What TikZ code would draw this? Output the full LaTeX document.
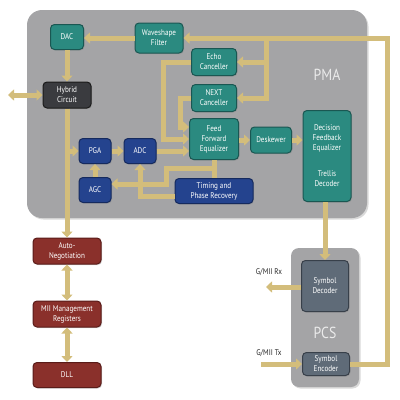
\documentclass[tikz,border=0pt]{standalone}
\usepackage{fontspec}
\setmainfont{PT Sans}[FakeStretch=0.86]
\usetikzlibrary{arrows.meta,shadows}
\definecolor{tanc}{HTML}{D3BD7B}
\definecolor{panelc}{HTML}{A4A4A6}
\definecolor{tealf}{HTML}{2B8A80}
\definecolor{tealb}{HTML}{1A5752}
\definecolor{bluef}{HTML}{24438E}
\definecolor{blueb}{HTML}{152A5E}
\definecolor{hybf}{HTML}{3A3B3F}
\definecolor{hybb}{HTML}{1A1A1A}
\definecolor{redf}{HTML}{8A302B}
\definecolor{redb}{HTML}{5A1C19}
\definecolor{slatef}{HTML}{5F6B78}
\definecolor{slateb}{HTML}{38404A}
\tikzset{
  box/.style={draw, rounded corners=4pt, line width=1pt, text=white, align=center,
    font=\fontsize{8.3}{10}\selectfont, inner sep=1pt,
    drop shadow={shadow xshift=1pt, shadow yshift=-1pt, opacity=0.35}},
  tealbox/.style={box, fill=tealf, draw=tealb},
  bluebox/.style={box, fill=bluef, draw=blueb},
  hybbox/.style={box, fill=hybf, draw=hybb},
  redbox/.style={box, fill=redf, draw=redb},
  slatebox/.style={box, fill=slatef, draw=slateb},
  panel/.style={fill=panelc, draw=none,
    drop shadow={shadow xshift=1.5pt, shadow yshift=-1.5pt, opacity=0.3}},
  ar/.style={draw=tanc, line width=5pt, -{Triangle[width=11pt,length=6pt]}},
  dar/.style={draw=tanc, line width=5pt, {Triangle[width=11pt,length=6pt]}-{Triangle[width=11pt,length=6pt]}},
  bar/.style={draw=tanc, line width=5pt},
  lbl/.style={font=\fontsize{8.3}{10}\selectfont, text=black!85},
  big/.style={font=\fontsize{16}{18}\selectfont, text=white!92!black}
}
\begin{document}
\begin{tikzpicture}[x=1pt,y=-1pt]
\useasboundingbox (0,0) rectangle (400,400);
% panels
\path[panel, rounded corners=15pt] (27,10) rectangle (367,218);
\path[panel, rounded corners=8pt] (291,248) rectangle (359,387);
\node[big] (pma) at (327,75) {PMA};
\node[big] (pcs) at (325,333) {PCS};
% nodes
\node[tealbox, minimum width=33pt, minimum height=25pt] (dac) at (67,37) {DAC};
\node[tealbox, minimum width=48pt, minimum height=30pt] (wave) at (159,38) {Waveshape\\Filter};
\node[hybbox, minimum width=48pt, minimum height=26pt] (hyb) at (67,95) {Hybrid\\Circuit};
\node[tealbox, minimum width=45pt, minimum height=27pt] (echo) at (214,62) {Echo\\Canceller};
\node[tealbox, minimum width=45pt, minimum height=27pt] (next) at (214,98) {NEXT\\Canceller};
\node[tealbox, minimum width=49pt, minimum height=41pt] (ffe) at (214,139) {Feed\\Forward\\Equalizer};
\node[tealbox, minimum width=41pt, minimum height=26pt] (desk) at (271,140) {Deskewer};
\node[tealbox, minimum width=48pt, minimum height=91pt] (dfe) at (327,156) {Decision\\Feedback\\Equalizer\\[16pt]Trellis\\Decoder};
\node[bluebox, minimum width=32pt, minimum height=25pt] (pga) at (95,151) {PGA};
\node[bluebox, minimum width=32pt, minimum height=25pt] (adc) at (140,151) {ADC};
\node[bluebox, minimum width=32pt, minimum height=25pt] (agc) at (95,190) {AGC};
\node[bluebox, minimum width=78pt, minimum height=25pt] (tim) at (214,191) {Timing and\\Phase Recovery};
\node[redbox, minimum width=68pt, minimum height=26pt] (auto) at (67,251) {Auto-\\Negotiation};
\node[redbox, minimum width=68pt, minimum height=26pt] (mii) at (67,314) {MII Management\\Registers};
\node[redbox, minimum width=68pt, minimum height=25pt] (dll) at (67,375) {DLL};
\node[slatebox, minimum width=47pt, minimum height=51pt] (dec) at (325,286) {Symbol\\Decoder};
\node[slatebox, minimum width=47pt, minimum height=23pt] (enc) at (326,364) {Symbol\\Encoder};
\node[lbl] (rxl) at (269,272) {G/MII Rx};
\node[lbl] (txl) at (269,353) {G/MII Tx};
% coordinates
\coordinate (ur) at (387,38);
\coordinate (br) at (266,38);
\coordinate (ext) at (8,95);
\coordinate (j1) at (67,151);
\coordinate (ec) at (163,139);
\coordinate (nc) at (180,127);
\coordinate (t1) at (214,168);
\coordinate (t2) at (166,168);
\coordinate (t3) at (166,184);
\coordinate (t4) at (140,196);
\coordinate (rx) at (266,287);
\coordinate (tx) at (261,364);
% connectors
\draw[bar] (ffe.south) -- (ffe.south |- tim.north);
\draw[ar] (t1) -- (t2) -- (t3) -- (t3 -| agc.east);
\draw[ar] (t4 -| tim.west) -- (t4) -- (t4 |- adc.south);
\draw[ar] (enc.east) -| (ur) -- (wave.east);
\draw[ar] (br) |- (echo.east);
\draw[ar] (br) |- (next.east);
\draw[ar] (wave.west) -- (wave.west -| dac.east);
\draw[ar] (dac.south) -- (hyb.north);
\draw[dar] (ext) -- (hyb.west);
\draw[ar] (hyb.south) -- (auto.north);
\draw[ar] (j1) -- (pga.west);
\draw[ar] (pga.east) -- (adc.west);
\draw[ar] (agc.north) -- (pga.south);
\draw[ar] (adc.east) -- (adc.east -| ffe.west);
\draw[ar] (echo.west) -| (ec) -- (ec -| ffe.west);
\draw[ar] (next.west) -| (nc) -- (nc -| ffe.west);
\draw[ar] (ffe.east |- desk.west) -- (desk.west);
\draw[ar] (desk.east) -- (desk.east -| dfe.west);
\draw[ar] (dfe.south -| dec.north) -- (dec.north);
\draw[ar] (dec.west |- rx) -- (rx);
\draw[ar] (tx) -- (enc.west);
\draw[dar] (auto.south) -- (mii.north);
\draw[dar] (mii.south) -- (dll.north);
\end{tikzpicture}
\end{document}
